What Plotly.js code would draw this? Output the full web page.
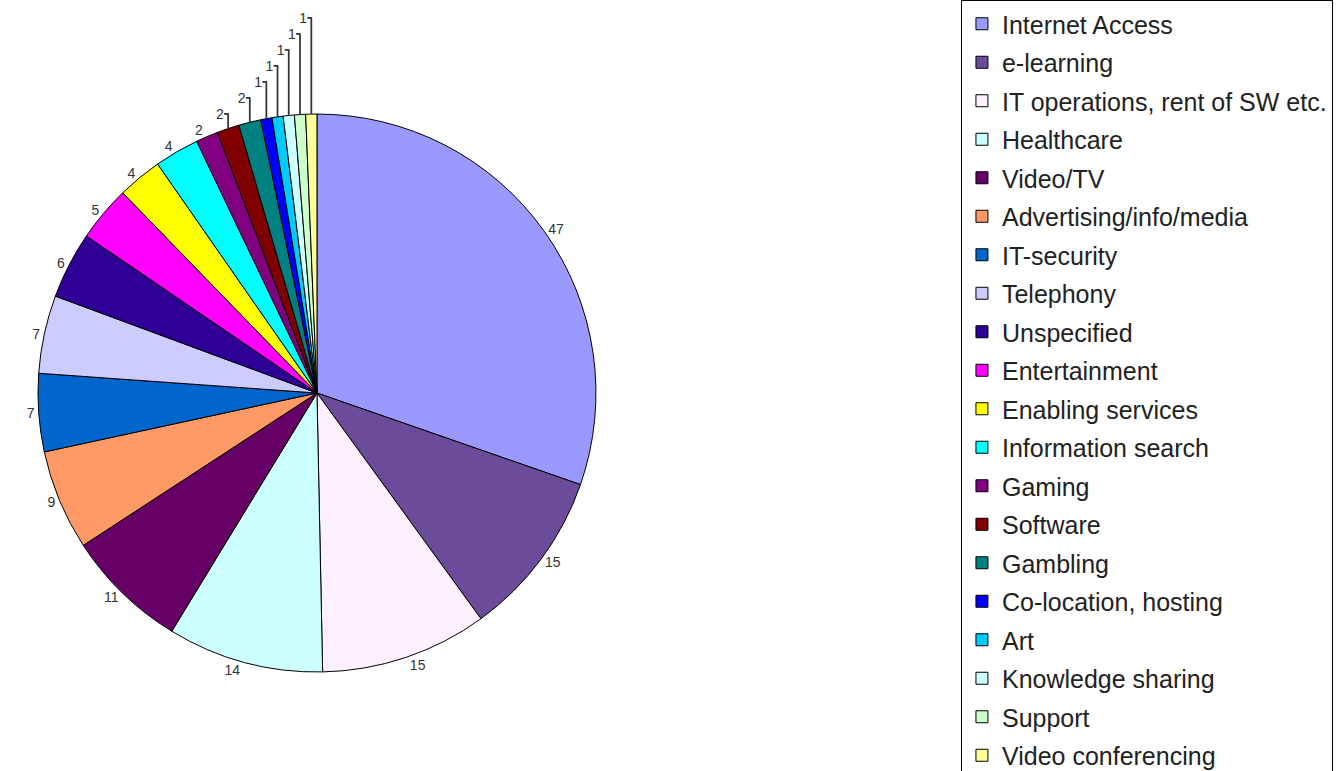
<!DOCTYPE html>
<html>
<head>
<meta charset="utf-8">
<script src="https://cdn.plot.ly/plotly-3.0.1.min.js"></script>
<style>html,body{margin:0;padding:0;background:#fff;}#chart{width:1338px;height:771px;}</style>
</head>
<body>
<div id="chart"></div>
<script>
const categories = ["Internet Access","e-learning","IT operations, rent of SW etc.","Healthcare","Video/TV","Advertising/info/media","IT-security","Telephony","Unspecified","Entertainment","Enabling services","Information search","Gaming","Software","Gambling","Co-location, hosting","Art","Knowledge sharing","Support","Video conferencing"];
const counts = [47,15,15,14,11,9,7,7,6,5,4,4,2,2,2,1,1,1,1,1];
const colors = ["#9999FF","#6B4C9A","#FFF0FF","#CCFFFF","#660066","#FF9966","#0066CC","#CCCCFF","#2E0096","#FF00FF","#FFFF00","#00FFFF","#800080","#800000","#008080","#0000FF","#00CCFF","#CCFFFF","#CCFFCC","#FFFF99"];

const FONT = '"Liberation Sans", Arial, sans-serif';
const traces = [{
  type: 'pie',
  labels: categories,
  values: counts,
  marker: {colors: colors, line: {color: '#000', width: 1}},
  sort: false,
  direction: 'clockwise',
  rotation: 0,
  textinfo: 'value',
  textposition: 'outside',
  outsidetextfont: {family: FONT, size: 14, color: '#333'},
  showlegend: false,
  hoverinfo: 'label+value',
  domain: {x: [0.0284, 0.4454], y: [0.1284, 0.8521]}
}];
categories.forEach((c, i) => {
  traces.push({
    type: 'scatter', mode: 'markers', x: [null], y: [null],
    name: c, legendgroup: 'g' + i,
    marker: {symbol: 'square', size: 12, color: colors[i], line: {color: '#000', width: 1}},
    hoverinfo: 'skip'
  });
});

const layout = {
  width: 1338, height: 771,
  margin: {l: 0, r: 0, t: 0, b: 0},
  paper_bgcolor: '#fff', plot_bgcolor: '#fff',
  xaxis: {visible: false}, yaxis: {visible: false},
  showlegend: true,
  legend: {
    x: 0.7182, y: 0.987, xanchor: 'left', yanchor: 'top',
    bordercolor: '#000', borderwidth: 1, bgcolor: '#fff',
    font: {family: FONT, size: 25, color: '#222'},
    tracegroupgap: 3, itemwidth: 30, maxheight: 1200
  }
};
Plotly.newPlot('chart', traces, layout, {displayModeBar: false, staticPlot: true});
</script>
</body>
</html>
